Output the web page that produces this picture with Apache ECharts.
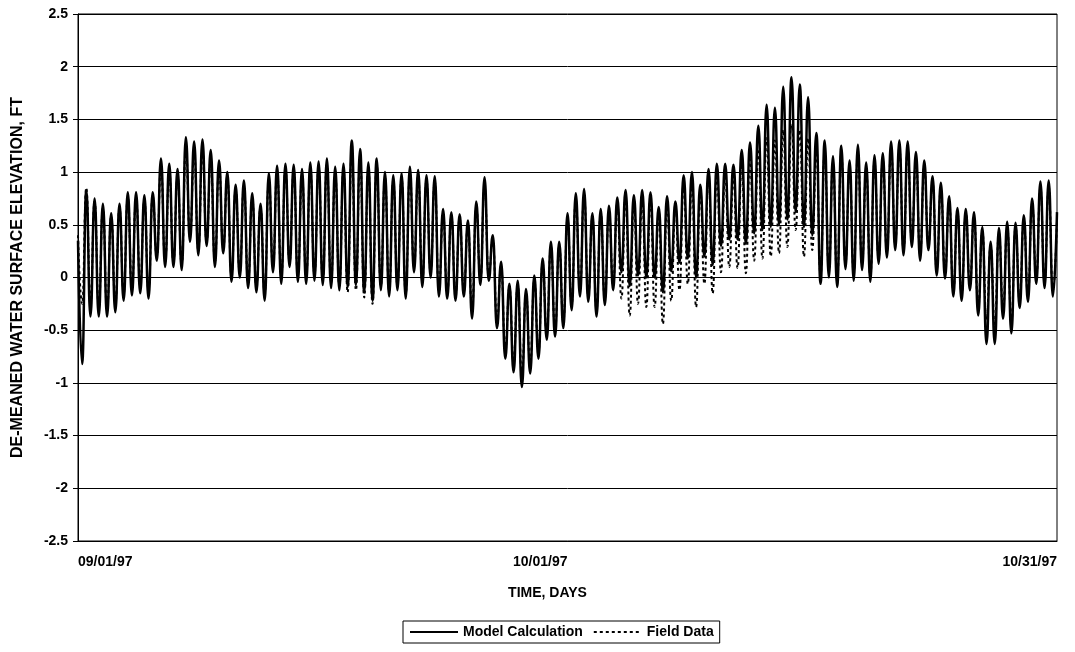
<!DOCTYPE html>
<html><head><meta charset="utf-8">
<script src="https://cdn.jsdelivr.net/npm/echarts@6/dist/echarts.min.js"></script>
<style>html,body{margin:0;padding:0;background:#fff}#c{width:1075px;height:652px}</style>
</head><body><div id="c"></div>
<script>
// Tick labels of the time axis (days 0, 30, 60)
const xTickLabels = ['09/01/97', '10/01/97', '10/31/97'];
const startDay = 0;
const endDay = 60;

// Model Calculation: value at start, successive low/high tide extremes, value at end (ft)
const modelStart = 0.35;
const modelEnd = 0.62;
const modelTroughs = [-0.82,-0.37,-0.37,-0.37,-0.33,-0.22,-0.17,-0.15,-0.20,0.16,0.10,0.10,0.07,0.34,0.21,0.30,0.10,0.23,-0.04,0.00,
 -0.10,-0.14,-0.22,0.05,-0.06,0.10,-0.04,-0.06,-0.03,-0.07,-0.10,-0.12,-0.09,-0.07,-0.14,-0.22,-0.12,-0.18,-0.12,-0.20,
 0.05,-0.09,0.00,-0.18,-0.20,-0.22,-0.18,-0.39,-0.07,-0.03,-0.48,-0.77,-0.90,-1.04,-0.91,-0.77,-0.59,-0.56,-0.48,
 -0.31,-0.18,-0.23,-0.37,-0.26,-0.12,0.05,-0.08,0.02,0.00,0.00,-0.14,0.06,0.14,0.18,0.00,0.20,0.12,0.30,0.36,
 0.36,0.32,0.42,0.45,0.48,0.50,0.55,0.62,0.48,0.40,-0.06,0.00,-0.09,0.08,-0.03,0.07,-0.04,0.13,0.19,0.26,
 0.21,0.29,0.16,0.26,0.02,-0.01,-0.18,-0.22,-0.12,-0.36,-0.63,-0.63,-0.39,-0.53,-0.29,-0.23,-0.06,-0.10,-0.18];
const modelPeaks = [0.83,0.75,0.70,0.61,0.70,0.81,0.81,0.78,0.81,1.13,1.08,1.03,1.33,1.29,1.31,1.21,1.11,1.00,0.88,
 0.92,0.80,0.70,0.99,1.06,1.08,1.07,1.03,1.09,1.10,1.13,1.05,1.08,1.30,1.22,1.09,1.13,1.00,0.97,0.99,
 1.05,1.02,0.97,0.96,0.65,0.62,0.60,0.54,0.72,0.95,0.40,0.15,-0.06,-0.03,-0.11,0.02,0.18,0.34,0.34,0.61,
 0.80,0.84,0.61,0.65,0.68,0.76,0.83,0.78,0.83,0.81,0.67,0.77,0.72,0.97,1.00,0.88,1.03,1.08,1.08,1.07,
 1.21,1.28,1.44,1.64,1.61,1.81,1.90,1.83,1.71,1.37,1.30,1.15,1.25,1.11,1.26,1.09,1.16,1.18,1.29,
 1.30,1.29,1.19,1.11,0.96,0.90,0.77,0.66,0.65,0.62,0.48,0.34,0.47,0.53,0.52,0.59,0.75,0.91,0.92];

// Field Data: same structure
const fieldStart = 0.40;
const fieldEnd = 0.55;
const fieldTroughs = [-0.25,-0.25,-0.28,-0.30,-0.25,-0.15,-0.10,-0.08,-0.12,0.20,0.15,0.15,0.12,0.38,0.26,0.34,0.15,0.28,0.02,0.05,
 -0.04,-0.08,-0.15,0.10,0.00,0.15,0.02,0.00,0.03,-0.02,-0.05,-0.08,-0.14,-0.12,-0.19,-0.25,-0.08,-0.13,-0.07,-0.15,
 0.10,-0.03,0.05,-0.12,-0.14,-0.16,-0.12,-0.30,-0.02,0.02,-0.40,-0.68,-0.80,-0.92,-0.82,-0.70,-0.52,-0.50,-0.42,
 -0.25,-0.12,-0.17,-0.30,-0.20,-0.06,-0.20,-0.36,-0.25,-0.28,-0.28,-0.44,-0.22,-0.12,-0.06,-0.28,-0.06,-0.15,0.05,0.10,
 0.09,0.04,0.16,0.18,0.20,0.23,0.29,0.45,0.20,0.26,0.02,0.08,-0.02,0.14,0.04,0.13,0.02,0.19,0.25,0.32,
 0.27,0.35,0.22,0.32,0.08,0.05,-0.12,-0.16,-0.06,-0.28,-0.40,-0.45,-0.30,-0.42,-0.22,-0.17,0.00,-0.04,-0.12];
const fieldPeaks = [0.85,0.72,0.66,0.58,0.66,0.76,0.76,0.73,0.76,1.05,1.00,0.96,1.22,1.18,1.20,1.12,1.04,0.94,0.83,
 0.87,0.75,0.66,0.93,1.00,1.02,1.01,0.97,1.03,1.04,1.07,0.99,1.02,1.20,1.14,1.03,1.07,0.95,0.92,0.94,
 0.99,0.96,0.92,0.91,0.60,0.57,0.56,0.50,0.66,0.86,0.36,0.10,-0.10,-0.08,-0.15,-0.03,0.13,0.29,0.30,0.55,
 0.74,0.78,0.56,0.60,0.62,0.70,0.76,0.72,0.76,0.75,0.62,0.71,0.66,0.90,0.92,0.82,0.95,0.98,0.98,0.96,
 1.08,1.12,1.22,1.32,1.30,1.40,1.45,1.40,1.32,1.22,1.20,1.08,1.17,1.04,1.18,1.02,1.09,1.11,1.21,
 1.22,1.21,1.12,1.04,0.90,0.84,0.72,0.61,0.60,0.57,0.44,0.30,0.42,0.48,0.47,0.54,0.70,0.85,0.86];

function build(start, troughs, peaks, end) {
  const vals = [start];
  for (let i = 0; i < troughs.length; i++) {
    vals.push(troughs[i]);
    if (i < peaks.length) vals.push(peaks[i]);
  }
  vals.push(end);
  const step = (endDay - startDay) / (vals.length - 1);
  return vals.map((v, i) => [startDay + i * step, v]);
}

const font = "'Liberation Sans', Arial, sans-serif";
const chart = echarts.init(document.getElementById('c'), null, {renderer: 'canvas'});
chart.setOption({
  animation: false,
  backgroundColor: '#ffffff',
  grid: {left: 78, right: 18, top: 14, bottom: 111, show: true, borderColor: '#000', borderWidth: 1, containLabel: false},
  legend: {
    left: 403, top: 621, orient: 'horizontal',
    borderColor: '#000', borderWidth: 1, padding: [4, 6, 4, 6],
    itemGap: 10, itemWidth: 48, itemHeight: 14,
    itemStyle: {opacity: 0, borderWidth: 0},
    textStyle: {fontFamily: font, fontSize: 14, fontWeight: 'bold', color: '#000'},
    data: ['Model Calculation', 'Field Data']
  },
  xAxis: {
    type: 'value', min: startDay, max: endDay, interval: 30,
    axisLine: {show: true, onZero: false, lineStyle: {color: '#000', width: 1}},
    axisTick: {show: false},
    splitLine: {show: false},
    axisLabel: {
      color: '#000', fontFamily: font, fontWeight: 'bold', fontSize: 14, margin: 14,
      align: 'right', alignMinLabel: 'left', alignMaxLabel: 'right',
      formatter: v => xTickLabels[Math.round(v / 30)]
    },
    name: 'TIME, DAYS', nameLocation: 'middle', nameGap: 45,
    nameTextStyle: {color: '#000', fontFamily: font, fontWeight: 'bold', fontSize: 14, padding: [0, 40, 0, 0]}
  },
  yAxis: {
    type: 'value', min: -2.5, max: 2.5, interval: 0.5,
    axisLine: {show: true, onZero: false, lineStyle: {color: '#000', width: 1}},
    axisTick: {show: true, length: 5, lineStyle: {color: '#000'}},
    splitLine: {show: true, lineStyle: {color: '#000', width: 1}},
    axisLabel: {color: '#000', fontFamily: font, fontWeight: 'bold', fontSize: 14, margin: 10},
    name: 'DE-MEANED WATER SURFACE ELEVATION, FT', nameLocation: 'middle', nameGap: 52, nameRotate: 90,
    nameTextStyle: {color: '#000', fontFamily: font, fontWeight: 'bold', fontSize: 16}
  },
  series: [
    {
      name: 'Model Calculation', type: 'line', symbol: 'none', showSymbol: false,
      smooth: 0.5, smoothMonotone: 'x',
      lineStyle: {color: '#000', width: 2.5}, itemStyle: {color: '#000'},
      data: build(modelStart, modelTroughs, modelPeaks, modelEnd)
    },
    {
      name: 'Field Data', type: 'line', symbol: 'none', showSymbol: false,
      smooth: 0.5, smoothMonotone: 'x',
      lineStyle: {color: '#000', width: 2, type: [3, 3]}, itemStyle: {color: '#000'},
      data: build(fieldStart, fieldTroughs, fieldPeaks, fieldEnd)
    }
  ]
});
</script>
</body></html>
